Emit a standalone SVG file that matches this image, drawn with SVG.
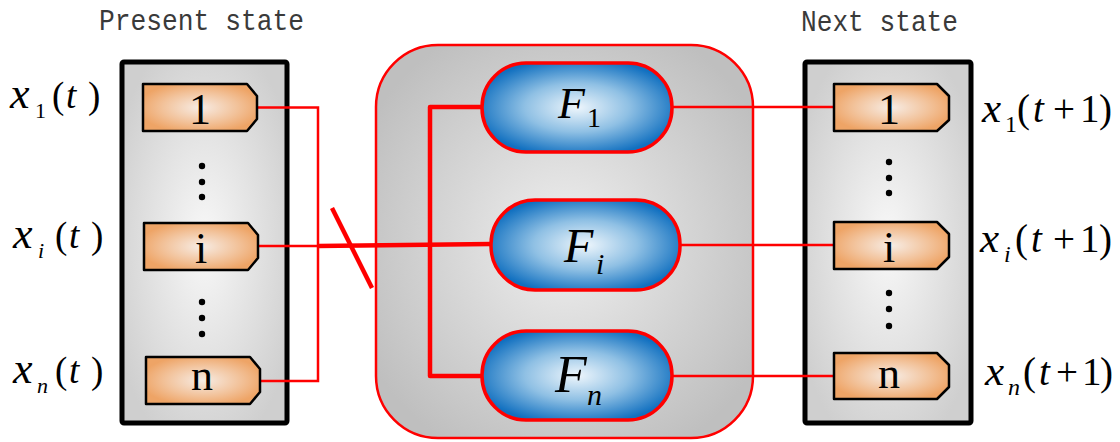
<svg xmlns="http://www.w3.org/2000/svg" width="1120" height="442" viewBox="0 0 1120 442">
<defs>
<radialGradient id="gBox" cx="0.5" cy="0.5" r="0.6">
<stop offset="0" stop-color="#f8f8f8"/><stop offset="1" stop-color="#cfcfcf"/>
</radialGradient>
<radialGradient id="gMid" cx="0.5" cy="0.5" r="0.6">
<stop offset="0" stop-color="#efefef"/><stop offset="1" stop-color="#bfbfbf"/>
</radialGradient>
<radialGradient id="gTag" cx="0.5" cy="0.5" r="0.55">
<stop offset="0" stop-color="#f7ece4"/><stop offset="0.6" stop-color="#f2c29a"/><stop offset="1" stop-color="#eea466"/>
</radialGradient>
<radialGradient id="gPill" cx="0.5" cy="0.5" r="0.55">
<stop offset="0" stop-color="#eef6fc"/><stop offset="0.5" stop-color="#8fc0e4"/><stop offset="1" stop-color="#1170c0"/>
</radialGradient>
</defs>
<style>
.box{fill:url(#gBox);stroke:#000;stroke-width:5}
.tag{fill:url(#gTag);stroke:#000;stroke-width:2.5;stroke-linejoin:round}
.pill{fill:url(#gPill);stroke:#ff0000;stroke-width:3.5}
.mid{fill:url(#gMid);stroke:#ff0000;stroke-width:2.5}
.thin{fill:none;stroke:#ff0000;stroke-width:2.5}
.thick{fill:none;stroke:#ff0000;stroke-width:4.5;stroke-linejoin:round}
.hdr{font-family:"Liberation Mono",monospace;font-size:26px;fill:#3a3a3a}
.num{font-family:"Liberation Serif",serif;font-size:44px;fill:#000;text-anchor:middle}
.lab{font-family:"Liberation Serif",serif;font-size:37px;fill:#000}
.rlab{font-family:"Liberation Serif",serif;font-size:39px;fill:#000}
.it{font-style:italic}
.dot{fill:#000}
</style>

<text class="hdr" x="99" y="0" transform="translate(0,30) scale(1,1.15)" textLength="205" lengthAdjust="spacingAndGlyphs">Present state</text>
<text class="hdr" x="801" y="0" transform="translate(0,31) scale(1,1.15)" textLength="157" lengthAdjust="spacingAndGlyphs">Next state</text>

<g id="present">
<rect class="box" x="122" y="62" width="165" height="361" rx="2"/>
<g class="dot"><circle cx="202" cy="166" r="3.2"/><circle cx="202" cy="182" r="3.2"/><circle cx="202" cy="197" r="3.2"/>
<circle cx="202" cy="302" r="3.2"/><circle cx="202" cy="318" r="3.2"/><circle cx="202" cy="334" r="3.2"/></g>
</g>
<g id="next">
<rect class="box" x="805" y="62" width="166" height="361" rx="2"/>
<g class="dot"><circle cx="889" cy="162" r="3.2"/><circle cx="889" cy="178" r="3.2"/><circle cx="889" cy="193" r="3.2"/>
<circle cx="889" cy="293" r="3.2"/><circle cx="889" cy="309" r="3.2"/><circle cx="889" cy="326" r="3.2"/></g>
</g>
<g id="functions">
<rect class="mid" x="376" y="45" width="377" height="393" rx="62"/>
</g>

<g id="connectors">
<path class="thin" d="M257,107.5 H318 V381 H260"/>
<path class="thin" d="M258,246 H318"/>
<path class="thick" d="M318,246 L491,244"/>
<path class="thick" d="M332,208 L372,288"/>
<path class="thick" d="M482,107 H430 V376 H482"/>
<path class="thin" d="M672,107 H834"/>
<path class="thin" d="M680,245 H834"/>
<path class="thin" d="M672,376 H834"/>
</g>

<g id="in1"><path class="tag" d="M143,84 H247 L257,96 V119 L247,131 H143 Z"/><text class="num" x="200" y="124">1</text></g>
<g id="ini"><path class="tag" d="M144,223 H248 L258,235 V258 L248,270 H144 Z"/><text class="num" x="201" y="263">i</text></g>
<g id="inn"><path class="tag" d="M146,357 H250 L260,369 V392 L250,404 H146 Z"/><text class="num" x="202" y="390">n</text></g>

<g id="out1"><path class="tag" d="M834,84 H937 L949,96 V120 L937,131 H834 Z"/><text class="num" x="889" y="124">1</text></g>
<g id="outi"><path class="tag" d="M834,222 H937 L949,234 V257 L937,269 H834 Z"/><text class="num" x="889" y="262">i</text></g>
<g id="outn"><path class="tag" d="M834,353 H937 L949,365 V387 L937,399 H834 Z"/><text class="num" x="889" y="388">n</text></g>

<g id="F1"><rect class="pill" x="482" y="63" width="190" height="89" rx="44"/>
<text class="lab" y="118"><tspan class="it" x="558" font-size="44">F</tspan><tspan x="587" y="127" font-size="28">1</tspan></text></g>
<g id="Fi"><rect class="pill" x="491" y="200" width="189" height="90" rx="44"/>
<text class="lab" y="262"><tspan class="it" x="564" font-size="48">F</tspan><tspan class="it" x="596" y="274" font-size="30">i</tspan></text></g>
<g id="Fn"><rect class="pill" x="482" y="331" width="190" height="89" rx="44"/>
<text class="lab" y="392"><tspan class="it" x="555" font-size="52">F</tspan><tspan class="it" x="587" y="405" font-size="30">n</tspan></text></g>

<g id="lx1"><text class="lab" y="108"><tspan class="it" x="10" font-size="44">x</tspan><tspan x="35" y="118" font-size="22">1</tspan><tspan x="52" y="108">(</tspan><tspan class="it" x="66">t</tspan><tspan x="88">)</tspan></text></g>
<g id="lxi"><text class="lab" y="248"><tspan class="it" x="13" font-size="44">x</tspan><tspan class="it" x="38" y="258" font-size="22">i</tspan><tspan x="55" y="248">(</tspan><tspan class="it" x="69">t</tspan><tspan x="91">)</tspan></text></g>
<g id="lxn"><text class="lab" y="383"><tspan class="it" x="13" font-size="44">x</tspan><tspan class="it" x="37" y="393" font-size="22">n</tspan><tspan x="55" y="383">(</tspan><tspan class="it" x="69">t</tspan><tspan x="91">)</tspan></text></g>

<g id="rx1"><text class="rlab" y="122"><tspan class="it" x="982" font-size="43">x</tspan><tspan x="1005" y="132" font-size="24">1</tspan><tspan x="1017" y="122">(</tspan><tspan class="it" x="1033">t</tspan><tspan x="1053">+</tspan><tspan x="1080">1</tspan><tspan x="1099">)</tspan></text></g>
<g id="rxi"><text class="rlab" y="252"><tspan class="it" x="980" font-size="43">x</tspan><tspan class="it" x="1004" y="262" font-size="24">i</tspan><tspan x="1015" y="252">(</tspan><tspan class="it" x="1031">t</tspan><tspan x="1053">+</tspan><tspan x="1080">1</tspan><tspan x="1099">)</tspan></text></g>
<g id="rxn"><text class="rlab" y="385"><tspan class="it" x="985" font-size="43">x</tspan><tspan class="it" x="1008" y="395" font-size="24">n</tspan><tspan x="1023" y="385">(</tspan><tspan class="it" x="1039">t</tspan><tspan x="1056">+</tspan><tspan x="1082">1</tspan><tspan x="1100">)</tspan></text></g>
</svg>
